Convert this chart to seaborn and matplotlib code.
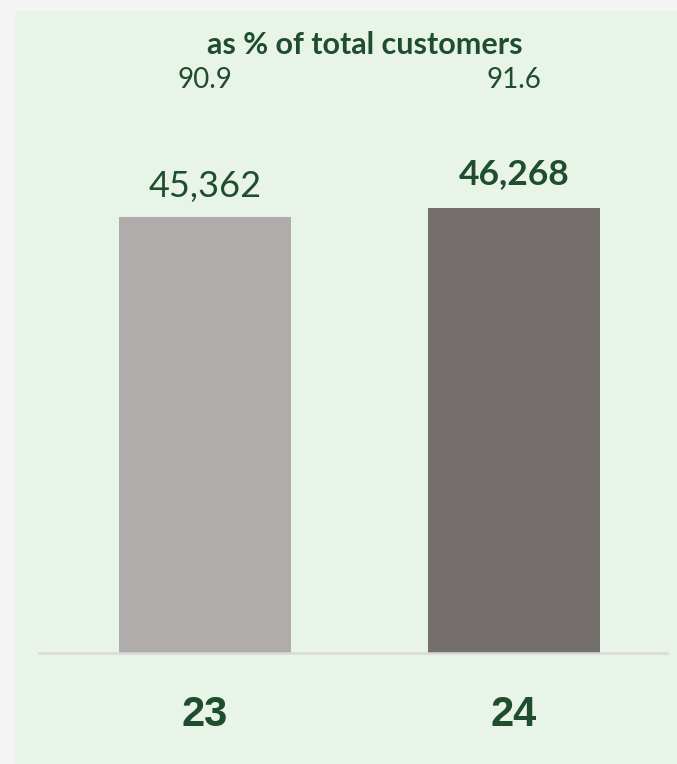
import matplotlib
matplotlib.use("Agg")
import matplotlib.pyplot as plt
from matplotlib.patches import Rectangle
import seaborn as sns
import pandas as pd

# Data
years = ["23", "24"]
customers = [45362, 46268]
share_pct = [90.9, 91.6]
bar_colors = ["#b0acab", "#756f6e"]
title_text = "as % of total customers"

GREEN = "#1e4d30"
PANEL = "#e8f4e7"
OUTER = "#f4f4f4"

sns.set_theme(style="white")
plt.rcParams["font.family"] = ["Lato", "DejaVu Sans"]

df = pd.DataFrame({"year": years, "customers": customers})

fig = plt.figure(figsize=(6.77, 7.64), dpi=100)
fig.patch.set_facecolor(OUTER)
fig.patches.append(Rectangle((15 / 677, 0), 1 - 15 / 677, (764 - 11) / 764,
                             transform=fig.transFigure, facecolor=PANEL,
                             edgecolor="none", zorder=-5))

left, right = 39 / 677, 667 / 677
bottom = (764 - 653) / 764
top = (764 - 28) / 764
ax = fig.add_axes([left, bottom, right - left, top - bottom])
ax.set_zorder(2)
ax.set_facecolor("none")

sns.barplot(data=df, x="year", y="customers", hue="year",
            palette=dict(zip(years, bar_colors)), width=0.557,
            legend=False, ax=ax, saturation=1, linewidth=0)

ax.set_xlim(-0.537, 1.495)
ax.set_ylim(0, 65000)
for s in ["top", "right", "left"]:
    ax.spines[s].set_visible(False)
ax.spines["bottom"].set_color("#d9d9d9")
ax.spines["bottom"].set_linewidth(1.8)
ax.set_yticks([])
ax.set_xlabel("")
ax.set_ylabel("")
ax.tick_params(axis="x", length=0, pad=30)
for lbl in ax.get_xticklabels():
    lbl.set_fontfamily(["Liberation Sans", "DejaVu Sans"])
    lbl.set_fontweight("bold")
    lbl.set_fontsize(30)
    lbl.set_color(GREEN)

# Value labels above the bars; the latest year in bold
for i, v in enumerate(customers):
    ax.annotate(f"{v:,}", xy=(i, v), xytext=(0, 10 if i == 0 else 13),
                textcoords="offset points", ha="center", va="bottom",
                fontsize=26 if i == 0 else 25.5,
                fontweight="normal" if i == 0 else "bold", color=GREEN)

# Share of total customers along the top
fig.text(365 / 677, 1 - 45 / 764, title_text, ha="center", va="center",
         fontsize=22, fontweight="bold", color=GREEN, zorder=3)
for i, p in enumerate(share_pct):
    xd = ax.transData.transform((i, 0))[0]
    xf = fig.transFigure.inverted().transform((xd, 0))[0]
    fig.text(xf, 1 - 80 / 764, f"{p}", ha="center", va="center",
             fontsize=20, color=GREEN, zorder=3)

fig.savefig("out.png", dpi=100, facecolor=fig.get_facecolor())
